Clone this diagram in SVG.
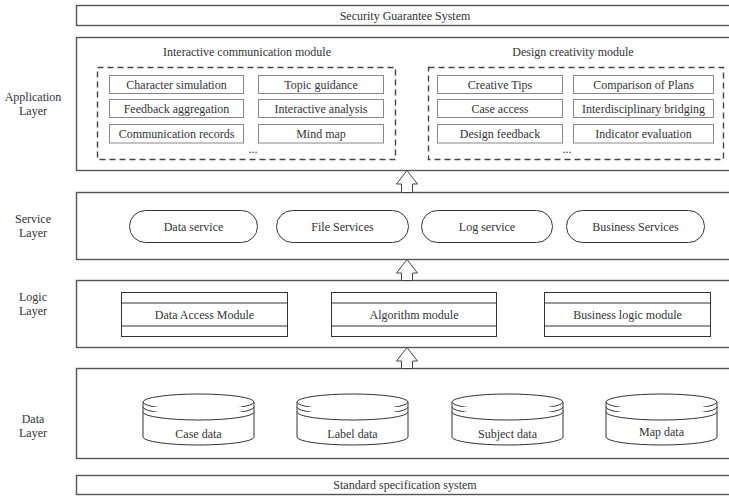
<svg xmlns="http://www.w3.org/2000/svg" width="729" height="496" viewBox="0 0 729 496" font-family="'Liberation Serif', 'DejaVu Serif', serif">
<style>
text{font-family:'Liberation Serif','DejaVu Serif',serif;fill:#333;text-anchor:middle}
.t{font-size:12px}
.s{font-size:12px}
.lab{font-size:12px}
.outer{fill:#fff;stroke:#555;stroke-width:1.4}
.dash{fill:none;stroke:#444;stroke-width:1.4;stroke-dasharray:6 4}
.inner{fill:#fff;stroke:#888;stroke-width:1}
.shape{fill:#fff;stroke:#333;stroke-width:1}
.arrow{fill:#fff;stroke:#444;stroke-width:1}
</style>
<rect width="729" height="496" fill="#fff"/>
<g id="layer-labels">
<text class="lab" x="33" y="101">Application</text><text class="lab" x="33" y="115">Layer</text>
<text class="lab" x="33" y="223">Service</text><text class="lab" x="33" y="237">Layer</text>
<text class="lab" x="33" y="301">Logic</text><text class="lab" x="33" y="315">Layer</text>
<text class="lab" x="33" y="423">Data</text><text class="lab" x="33" y="437">Layer</text>
</g>
<g id="security">
<rect class="outer" x="76.5" y="5.5" width="660" height="20"/>
<text class="t" x="405" y="19.5">Security Guarantee System</text>
</g>
<g id="application-layer">
<rect class="outer" x="76.5" y="37.5" width="660" height="133"/>
<g id="interactive-communication-module">
<text class="t" x="247" y="56">Interactive communication module</text>
<rect class="dash" x="97.5" y="67.5" width="298" height="92"/>
<rect class="inner" x="109.5" y="75.5" width="134" height="18"/><text class="t" x="176.5" y="88.5">Character simulation</text>
<rect class="inner" x="258.5" y="75.5" width="125" height="18"/><text class="t" x="321" y="88.5">Topic guidance</text>
<rect class="inner" x="109.5" y="99.5" width="134" height="18"/><text class="t" x="176.5" y="112.5">Feedback aggregation</text>
<rect class="inner" x="258.5" y="99.5" width="125" height="18"/><text class="t" x="321" y="112.5">Interactive analysis</text>
<rect class="inner" x="109.5" y="124.5" width="134" height="18.5"/><text class="t" x="176.5" y="137.5">Communication records</text>
<rect class="inner" x="258.5" y="124.5" width="125" height="18.5"/><text class="t" x="321" y="137.5">Mind map</text>
<text class="t" x="253" y="153">...</text>
</g>
<g id="design-creativity-module">
<text class="t" x="573" y="56">Design creativity module</text>
<rect class="dash" x="428.5" y="67.5" width="295" height="92"/>
<rect class="inner" x="437.5" y="75.5" width="125" height="18"/><text class="t" x="500" y="88.5">Creative Tips</text>
<rect class="inner" x="573.5" y="75.5" width="140" height="18"/><text class="t" x="643.5" y="88.5">Comparison of Plans</text>
<rect class="inner" x="437.5" y="99.5" width="125" height="18"/><text class="t" x="500" y="112.5">Case access</text>
<rect class="inner" x="573.5" y="99.5" width="140" height="18"/><text class="t" x="643.5" y="112.5">Interdisciplinary bridging</text>
<rect class="inner" x="437.5" y="124.5" width="125" height="18.5"/><text class="t" x="500" y="137.5">Design feedback</text>
<rect class="inner" x="573.5" y="124.5" width="140" height="18.5"/><text class="t" x="643.5" y="137.5">Indicator evaluation</text>
<text class="t" x="567" y="153">...</text>
</g>
</g>
<g id="service-layer">
<rect class="outer" x="76.5" y="192.5" width="660" height="67"/>
<g id="data-service"><rect class="shape" x="129.5" y="210.5" width="128" height="32" rx="16"/><text class="s" x="193.5" y="230.5">Data service</text></g>
<g id="file-services"><rect class="shape" x="276.5" y="210.5" width="132" height="32" rx="16"/><text class="s" x="342.5" y="230.5">File Services</text></g>
<g id="log-service"><rect class="shape" x="421.5" y="210.5" width="131" height="32" rx="16"/><text class="s" x="487" y="230.5">Log service</text></g>
<g id="business-services"><rect class="shape" x="566.5" y="210.5" width="138" height="32" rx="16"/><text class="s" x="635.5" y="230.5">Business Services</text></g>
</g>
<g id="logic-layer">
<rect class="outer" x="76.5" y="280.5" width="660" height="67"/>
<g id="data-access-module"><rect class="shape" x="121.5" y="292.5" width="166" height="44"/><line class="shape" x1="121.5" y1="303" x2="287.5" y2="303"/><line class="shape" x1="121.5" y1="326" x2="287.5" y2="326"/><text class="s" x="204.5" y="319">Data Access Module</text></g>
<g id="algorithm-module"><rect class="shape" x="331.5" y="292.5" width="165" height="44"/><line class="shape" x1="331.5" y1="303" x2="496.5" y2="303"/><line class="shape" x1="331.5" y1="326" x2="496.5" y2="326"/><text class="s" x="414" y="319">Algorithm module</text></g>
<g id="business-logic-module"><rect class="shape" x="544.5" y="292.5" width="166" height="44"/><line class="shape" x1="544.5" y1="303" x2="710.5" y2="303"/><line class="shape" x1="544.5" y1="326" x2="710.5" y2="326"/><text class="s" x="627.5" y="319">Business logic module</text></g>
</g>
<defs>
<g id="cyl">
<path class="shape" d="M-55.5 0 V35 A55.5 8 0 0 0 55.5 35 V0"/>
<ellipse class="shape" cx="0" cy="0" rx="55.5" ry="8"/>
<path class="shape" fill="none" d="M-55.5 5 A55.5 8 0 0 0 55.5 5"/>
<path class="shape" fill="none" d="M-55.5 10 A55.5 8 0 0 0 55.5 10"/>
</g>
</defs>
<g id="data-layer">
<rect class="outer" x="76.5" y="368.5" width="660" height="90"/>
<g id="case-data"><use href="#cyl" x="198.5" y="402"/><text class="s" x="198.5" y="438">Case data</text></g>
<g id="label-data"><use href="#cyl" x="352.5" y="402"/><text class="s" x="352.5" y="438">Label data</text></g>
<g id="subject-data"><use href="#cyl" x="507.5" y="402"/><text class="s" x="507.5" y="438">Subject data</text></g>
<g id="map-data"><use href="#cyl" x="661.5" y="402"/><text class="s" x="661.5" y="436">Map data</text></g>
</g>
<g id="standard">
<rect class="outer" x="76.5" y="475.5" width="660" height="19"/>
<text class="t" x="405" y="489">Standard specification system</text>
</g>
<g id="connectors">
<polygon class="arrow" points="407,170.5 396.5,184 401.5,184 401.5,192.5 412.5,192.5 412.5,184 417.5,184"/>
<polygon class="arrow" points="407,259.5 396.5,273 401.5,273 401.5,280.5 412.5,280.5 412.5,273 417.5,273"/>
<polygon class="arrow" points="407,347.5 396.5,361 401.5,361 401.5,368.5 412.5,368.5 412.5,361 417.5,361"/>
</g>
</svg>
